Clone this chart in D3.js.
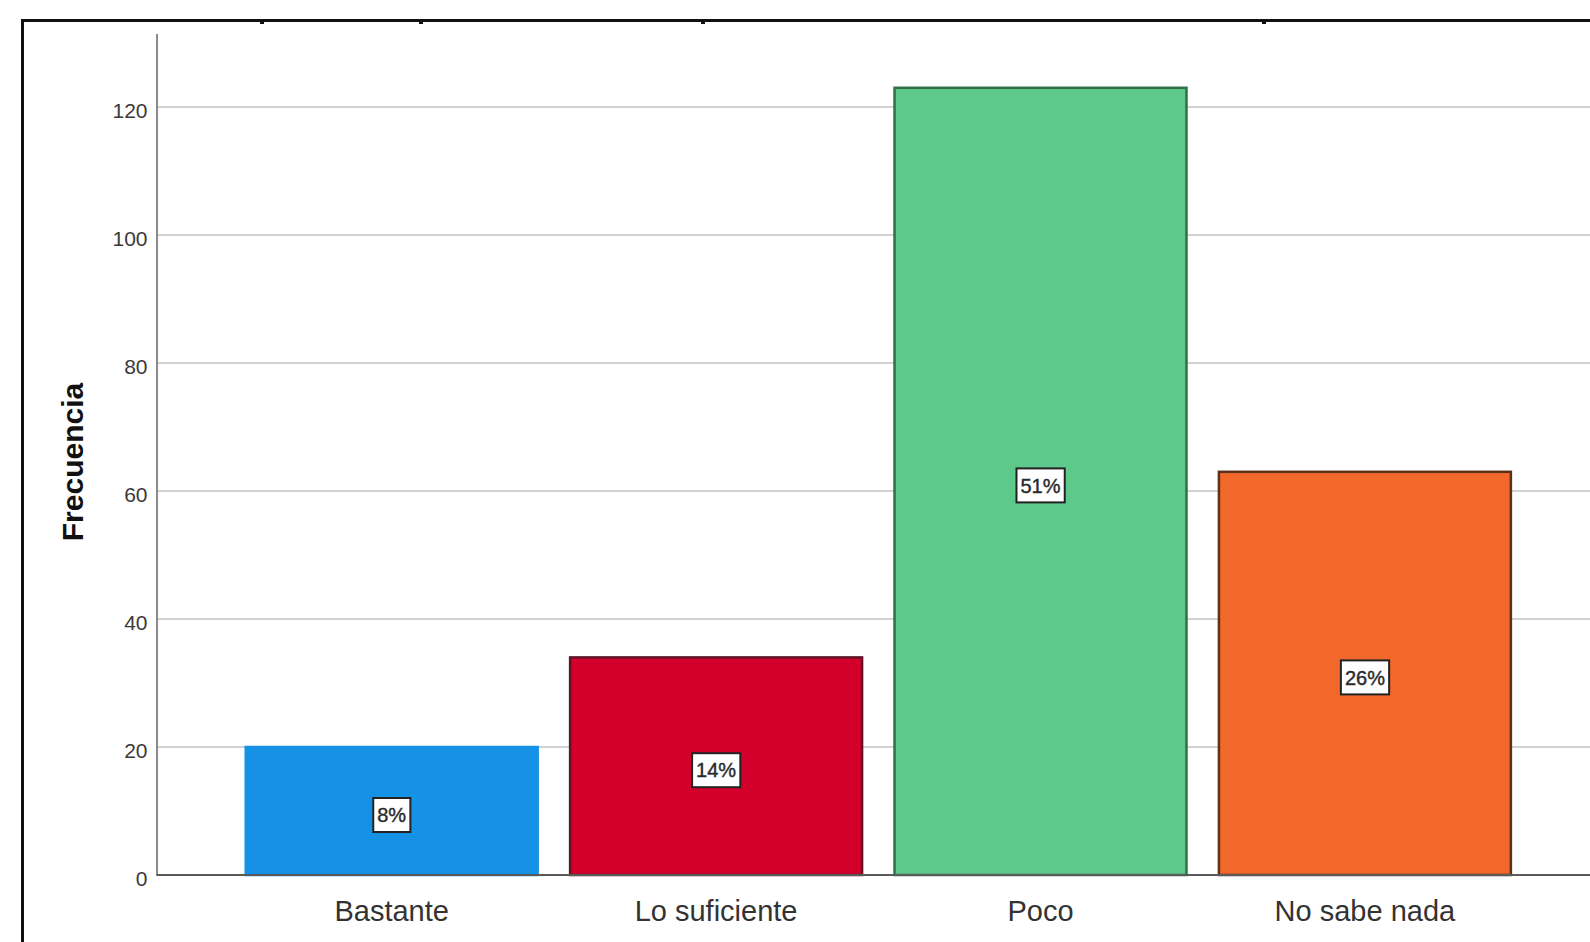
<!DOCTYPE html>
<html>
<head>
<meta charset="utf-8">
<script src="https://cdn.jsdelivr.net/npm/d3@7/dist/d3.min.js"></script>
<style>
  html, body { margin: 0; padding: 0; background: #ffffff; }
  svg { display: block; }
</style>
</head>
<body>
<svg id="chart" width="1590" height="942"></svg>
<script>
// ---- data ----
const categories = ["Bastante", "Lo suficiente", "Poco", "No sabe nada"];
const values = [20, 34, 123, 63];
const percentLabels = ["8%", "14%", "51%", "26%"];
const yTicks = [0, 20, 40, 60, 80, 100, 120];
const yTitle = "Frecuencia";
const fills = ["#1591e6", "#d3002c", "#5dc98a", "#f1682a"];
const strokes = ["#1591e6", "#5e1426", "#356e4a", "#5e3219"];

// ---- layout ----
const W = 1590, H = 942;
const svg = d3.select("#chart");

const y = d3.scaleLinear().domain([0, 131.5]).range([875, 33.4]);
const x = d3.scaleBand().domain(categories).range([229.5, 1527.1])
  .paddingInner(0.1).paddingOuter(0.05);
const axisX = 156.5;

// outer frame (top + left)
svg.append("path")
  .attr("d", `M22.5,${H} L22.5,20.5 L${W},20.5`)
  .attr("fill", "none").attr("stroke", "#111").attr("stroke-width", 3);
// small marks on the top frame
[262, 421, 703, 1264].forEach(px => {
  svg.append("rect").attr("x", px - 2).attr("y", 20).attr("width", 4).attr("height", 4).attr("fill", "#111");
});

// gridlines
svg.append("g").selectAll("line").data(yTicks.filter(d => d > 0)).join("line")
  .attr("x1", axisX).attr("x2", W)
  .attr("y1", d => y(d)).attr("y2", d => y(d))
  .attr("stroke", "#d2d2d2").attr("stroke-width", 2);

// y axis with labels
const yAxis = d3.axisLeft(y).tickValues(yTicks).tickSize(0).tickPadding(9).tickFormat(d3.format("d"));
const gy = svg.append("g").attr("transform", `translate(${axisX},0)`).call(yAxis);
gy.select(".domain").attr("stroke", "#8a8a8a").attr("stroke-width", 2);
gy.selectAll(".tick text")
  .attr("font-family", "'Liberation Sans', Arial, sans-serif")
  .attr("font-size", 21).attr("fill", "#3a3a3a")
  .attr("dy", "0.5em");

// bars
svg.append("g").selectAll("rect").data(values).join("rect")
  .attr("x", (d, i) => x(categories[i]))
  .attr("y", d => y(d))
  .attr("width", x.bandwidth())
  .attr("height", d => y(0) - y(d))
  .attr("fill", (d, i) => fills[i])
  .attr("stroke", (d, i) => strokes[i])
  .attr("stroke-width", 2.5);

// baseline
svg.append("line")
  .attr("x1", axisX).attr("x2", W).attr("y1", y(0)).attr("y2", y(0))
  .attr("stroke", "#5a5a5a").attr("stroke-width", 2);

// percentage labels in boxes
const lab = svg.append("g").selectAll("g").data(values).join("g")
  .attr("transform", (d, i) => `translate(${x(categories[i]) + x.bandwidth() / 2},${(y(d) + y(0)) / 2 + 4})`);
lab.append("rect");
lab.append("text")
  .text((d, i) => percentLabels[i])
  .attr("text-anchor", "middle")
  .attr("dy", "0.36em")
  .attr("font-family", "'Liberation Sans', Arial, sans-serif")
  .attr("font-size", 20).attr("fill", "#2a2a2a")
  .attr("stroke", "#2a2a2a").attr("stroke-width", 0.4);
lab.each(function() {
  const g = d3.select(this);
  const bb = g.select("text").node().getBBox();
  const padX = 4, h = 34;
  g.select("rect")
    .attr("x", bb.x - padX).attr("y", -h / 2)
    .attr("width", bb.width + 2 * padX).attr("height", h)
    .attr("fill", "#fff").attr("stroke", "#222").attr("stroke-width", 2);
});

// x category labels
svg.append("g").selectAll("text").data(categories).join("text")
  .attr("x", d => x(d) + x.bandwidth() / 2)
  .attr("y", 921)
  .attr("text-anchor", "middle")
  .attr("font-family", "'Liberation Sans', Arial, sans-serif")
  .attr("font-size", 29).attr("fill", "#333")
  .text(d => d);

// y title
svg.append("text")
  .attr("transform", "translate(83,462) rotate(-90)")
  .attr("text-anchor", "middle")
  .attr("font-family", "'Liberation Sans', Arial, sans-serif")
  .attr("font-weight", "bold")
  .attr("font-size", 30).attr("fill", "#111")
  .text(yTitle);
</script>
</body>
</html>
